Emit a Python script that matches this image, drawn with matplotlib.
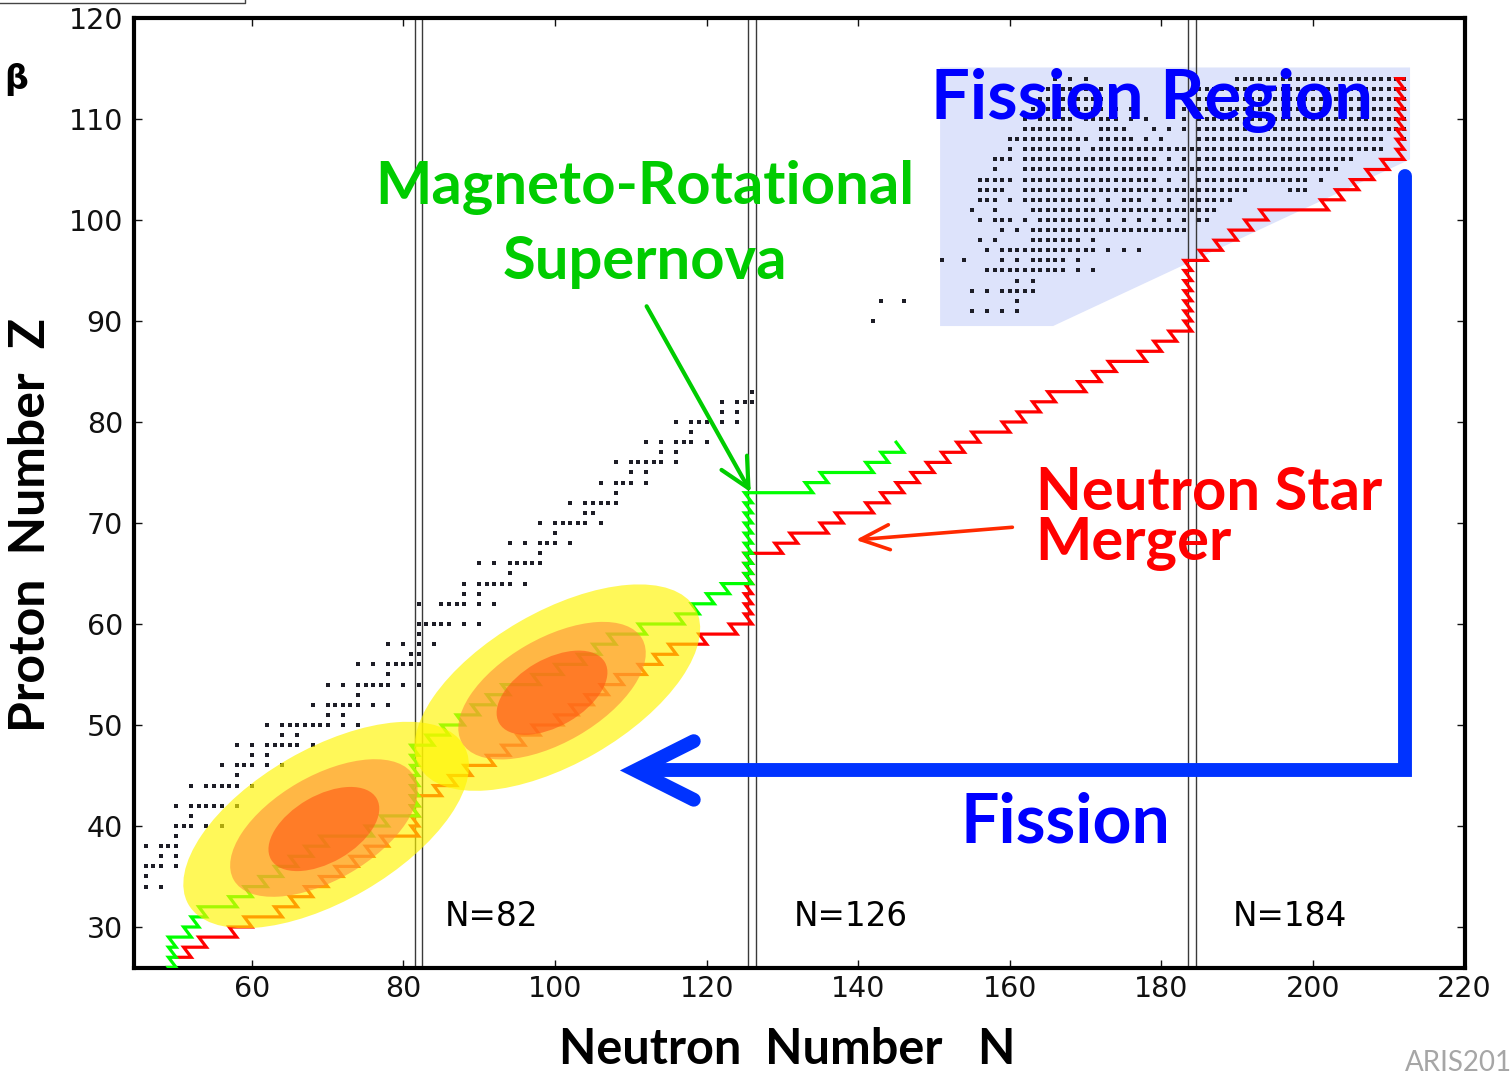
import numpy as np
import matplotlib
matplotlib.use('Agg')
import matplotlib.pyplot as plt
import matplotlib.transforms as mtransforms
from matplotlib.patches import Ellipse, Polygon
from matplotlib.lines import Line2D

#       Data
# r-process paths: for every proton number Z, the largest N reached on that row
# (the path then steps back one N while moving up one Z)
red_z = list(range(27, 115))
red_start = 50
red_end = [52, 54, 58, 60, 64, 66, 68, 70, 72, 74,
           76, 78, 82, 82, 82, 82, 85, 87, 89, 92,
           94, 96, 98, 101, 103, 105, 107, 109, 112, 114,
           116, 120, 124, 126, 126, 126, 126, 126, 126, 126,
           130, 132, 136, 138, 142, 144, 146, 148, 150, 152,
           154, 156, 160, 162, 164, 166, 170, 172, 174, 178,
           180, 182, 184, 184, 184, 184, 184, 184, 184, 186,
           188, 190, 192, 194, 202, 204, 206, 208, 210, 212,
           212, 212, 212, 212, 212, 212, 212, 212]

green_z = list(range(25, 79))
green_start = 50
green_end = [50, 50, 50, 50, 52, 53, 54, 58, 60, 62,
             64, 66, 68, 70, 76, 78, 82, 82, 82, 82,
             82, 82, 82, 84, 86, 88, 90, 92, 94, 98,
             101, 104, 106, 108, 112, 117, 119, 121, 123, 126,
             126, 126, 126, 126, 126, 126, 126, 126, 134, 136,
             142, 144, 146, 145]

# black squares along the diagonal band: (Z, [N, ...])
band_rows = [
    (34, [46, 48]), (35, [46]), (36, [46, 47, 48, 50]), (37, [48, 50]),
    (38, [46, 48, 49, 50]), (39, [50]), (40, [50, 51, 52, 54, 56]), (41, [52]),
    (42, [50, 52, 53, 54, 55, 56, 58]), (44, [52, 54, 55, 56, 57, 58, 60]),
    (45, [58]), (46, [56, 58, 59, 60, 62, 64]), (47, [60, 62]),
    (48, [58, 60, 62, 63, 64, 65, 66, 68]), (49, [64, 66]),
    (50, [62, 64, 65, 66, 67, 68, 69, 70, 72, 74]), (51, [70, 72]),
    (52, [68, 70, 71, 72, 73, 74, 76, 78]), (53, [74]),
    (54, [70, 72, 74, 75, 76, 77, 78, 80, 82]), (55, [78]),
    (56, [74, 76, 78, 79, 80, 81, 82]), (57, [81, 82]), (58, [78, 80, 82, 84]),
    (59, [82]), (60, [82, 83, 84, 85, 86, 88, 90]),
    (62, [82, 85, 86, 87, 88, 90, 92]), (63, [88, 90]),
    (64, [88, 90, 91, 92, 93, 94, 96]), (65, [94]),
    (66, [90, 92, 94, 95, 96, 97, 98]), (67, [98]),
    (68, [94, 96, 98, 99, 100, 102]), (69, [100]),
    (70, [98, 100, 101, 102, 103, 104, 106]), (71, [104, 105]),
    (72, [102, 104, 105, 106, 107, 108]), (73, [108]),
    (74, [106, 108, 109, 110, 112]), (75, [110, 112]),
    (76, [108, 110, 111, 112, 113, 114, 116]), (77, [114, 116]),
    (78, [112, 114, 116, 117, 118, 120]), (79, [118]),
    (80, [116, 118, 119, 120, 122, 124]), (81, [122, 124]),
    (82, [122, 124, 125, 126]), (83, [126]),
    (90, [142]), (92, [143, 146]),
]

# black squares in the fission region: (Z, [(first N, last N), ...])
fission_rows = [
    (91, [(155, 155), (157, 157), (159, 159), (161, 161)]),
    (92, [(161, 161)]),
    (93, [(155, 155), (157, 157), (159, 163)]),
    (94, [(161, 161), (163, 163)]),
    (95, [(157, 167), (169, 169), (171, 171)]),
    (96, [(151, 151), (154, 154), (159, 159), (161, 161), (163, 167), (169, 169)]),
    (97, [(157, 157), (159, 171), (173, 173), (175, 175), (177, 177)]),
    (98, [(156, 156), (158, 158), (163, 169), (171, 171)]),
    (99, [(159, 159), (161, 161), (163, 183)]),
    (100, [(156, 156), (158, 160), (162, 162), (164, 171), (173, 173), (175, 175),
           (177, 177), (179, 179), (181, 181), (183, 183), (185, 186)]),
    (101, [(155, 155), (158, 158), (163, 187)]),
    (102, [(156, 158), (160, 160), (162, 171), (173, 173), (175, 177), (179, 179),
           (181, 181), (183, 189)]),
    (103, [(156, 159), (162, 191), (197, 199)]),
    (104, [(156, 160), (162, 179), (181, 181), (183, 183), (185, 199), (201, 201)]),
    (105, [(158, 158), (162, 203)]),
    (106, [(158, 160), (162, 179), (181, 181), (183, 183), (185, 205)]),
    (107, [(160, 160), (162, 169), (171, 209)]),
    (108, [(160, 170), (172, 176), (178, 178), (180, 180), (185, 209), (212, 212)]),
    (109, [(162, 168), (172, 175), (179, 179), (181, 181), (183, 183), (185, 212)]),
    (110, [(162, 162), (164, 168), (170, 174), (176, 176), (178, 178), (183, 183),
           (185, 212)]),
    (111, [(163, 172), (174, 174), (176, 176), (183, 183), (185, 212)]),
    (112, [(164, 172), (183, 183), (185, 212)]),
    (113, [(164, 172), (185, 212)]),
    (114, [(166, 166), (168, 168), (170, 170), (190, 212)]),
]

magic_numbers = [82, 126, 184]
x_ticks = [60, 80, 100, 120, 140, 160, 180, 200, 220]
y_ticks = [30, 40, 50, 60, 70, 80, 90, 100, 110, 120]


def staircase(z_rows, n_first, n_last):
    # horizontal run along each Z, then one step up-left to the next row
    xs, ys = [n_first], [z_rows[0]]
    for i, z in enumerate(z_rows):
        if i > 0:
            xs.append(n_last[i - 1] - 1)
            ys.append(z)
        xs.append(n_last[i])
        ys.append(z)
    return xs, ys


band_n = [n for z, ns in band_rows for n in ns]
band_z = [z for z, ns in band_rows for n in ns]
fis_n, fis_z = [], []
for z, runs in fission_rows:
    for a, b in runs:
        for n in range(a, b + 1):
            fis_n.append(n)
            fis_z.append(z)

red_x, red_y = staircase(red_z, red_start, red_end)
green_x, green_y = staircase(green_z, green_start, green_end)

#       Figure
W, H = 1511, 1074
fig = plt.figure(figsize=(W / 100, H / 100), dpi=100)
ax = fig.add_axes([134 / W, 1 - 968 / H, (1465 - 134) / W, (968 - 18) / H])
ax.set_xlim(44.45, 220.05)
ax.set_ylim(25.94, 120.0)

bold_font = ['Lato', 'DejaVu Sans']

# shaded fission region
ax.add_patch(Polygon([(150.8, 115.1), (212.8, 115.1), (212.8, 106.0),
                      (165.7, 89.5), (150.8, 89.5)],
                     closed=True, facecolor='#dde3fb', edgecolor='none', zorder=1))

# magic-number lines
for m in magic_numbers:
    for off in (-0.5, 0.5):
        ax.axvline(m + off, color='#3a3a3a', lw=1.0, zorder=2)

ax.plot(band_n, band_z, 's', ms=3.1, mew=0, color='#1d1d26', zorder=3)
ax.plot(fis_n, fis_z, 's', ms=3.1, mew=0, color='#1d1d26', zorder=3)

ax.plot(red_x, red_y, color='#ff0000', lw=2.3, solid_joinstyle='miter', zorder=4)
ax.plot(green_x, green_y, color='#00ff00', lw=2.3, solid_joinstyle='miter', zorder=4)


# abundance blobs, sized in pixels and centred in data coordinates
def blob(cx, cy, w_px, h_px, color, alpha):
    tr = fig.dpi_scale_trans + mtransforms.ScaledTranslation(cx, cy, ax.transData)
    ax.add_patch(Ellipse((0, 0), w_px / 100, h_px / 100, angle=30, transform=tr,
                         facecolor=color, edgecolor='none', alpha=alpha, zorder=5))


for cx, cy in [(69.8, 40.1), (100.3, 53.7)]:
    blob(cx, cy, 318, 152, '#fff500', 0.65)
for cx, cy in [(69.5, 39.8), (99.6, 53.4)]:
    blob(cx, cy, 208, 104, '#ff8c39', 0.6)
for cx, cy in [(69.5, 39.7), (99.6, 53.2)]:
    blob(cx, cy, 122, 67, '#ff5614', 0.6)

# fission recycling arrow
blue = '#0033ff'
ax.plot([212.2, 212.2, 112.0], [104.4, 45.5, 45.5], color=blue, lw=10,
        solid_capstyle='round', solid_joinstyle='miter', zorder=6)
ax.plot([118.3, 110.6, 118.3], [48.4, 45.5, 42.6], color=blue, lw=10,
        solid_capstyle='round', solid_joinstyle='miter', zorder=6)

# pointer arrows
ax.annotate('', xy=(126.0, 72.8), xytext=(111.9, 91.7),
            arrowprops=dict(arrowstyle='->,head_length=0.7,head_width=0.35',
                            color='#00cc00', lw=3, mutation_scale=30), zorder=7)
ax.annotate('', xy=(139.3, 68.3), xytext=(160.7, 69.6),
            arrowprops=dict(arrowstyle='->,head_length=0.7,head_width=0.3',
                            color='#ff2a00', lw=2.6, mutation_scale=30), zorder=7)

# labels in the plot
for m, xpos in zip(magic_numbers, [91.6, 139.0, 197.0]):
    ax.text(xpos, 31.0, f'N={m}', fontsize=23.5, ha='center', va='center', zorder=8)

ax.text(149.6, 110.0, 'Fission Region', color='#0000ff', fontsize=49.5,
        fontweight='bold', family=bold_font, ha='left', va='baseline', zorder=8)
ax.text(111.9, 101.6, 'Magneto-Rotational', color='#00cc00', fontsize=43,
        fontweight='bold', family=bold_font, ha='center', va='baseline', zorder=8)
ax.text(111.9, 94.2, 'Supernova', color='#00cc00', fontsize=43,
        fontweight='bold', family=bold_font, ha='center', va='baseline', zorder=8)
ax.text(163.4, 71.3, 'Neutron Star', color='#ff0000', fontsize=43,
        fontweight='bold', family=bold_font, ha='left', va='baseline', zorder=8)
ax.text(163.4, 66.3, 'Merger', color='#ff0000', fontsize=43,
        fontweight='bold', family=bold_font, ha='left', va='baseline', zorder=8)
ax.text(153.5, 38.4, 'Fission', color='#0000ff', fontsize=49,
        fontweight='bold', family=bold_font, ha='left', va='baseline', zorder=8)

# axes styling
ax.set_xticks(x_ticks)
ax.set_yticks(y_ticks)
ax.tick_params(direction='in', length=6, width=1, top=True, right=True,
               labelsize=20.5, colors='#111111')
ax.tick_params(axis='x', pad=5)
ax.tick_params(axis='y', pad=8)
for sp in ax.spines.values():
    sp.set_linewidth(3)

fig.text(787 / W, 1 - 1064 / H, 'Neutron  Number   N', fontsize=35, fontweight='bold',
         family=bold_font, ha='center', va='baseline')
fig.text(31 / W, 1 - 525 / H, 'Proton  Number  Z', fontsize=36, fontweight='bold',
         family=bold_font, ha='center', va='center', rotation=90)

# slide leftovers around the chart
fig.add_artist(Line2D([0, 245 / W, 245 / W], [1 - 3 / H, 1 - 3 / H, 1],
                      color='#444444', lw=1))
fig.text(16 / W, 1 - 80 / H, 'β', fontsize=24, fontweight='bold',
         family=['DejaVu Sans'], ha='center', va='center')
fig.text(1405 / W, 1 - 1063 / H, 'ARIS201', fontsize=20, color='#a6a6a6',
         family=bold_font, ha='left', va='center')

fig.savefig('out.png', dpi=100)
